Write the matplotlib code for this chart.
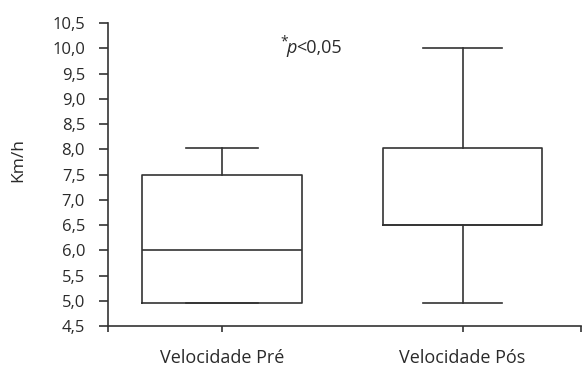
import matplotlib
matplotlib.use("Agg")
import matplotlib.pyplot as plt
from matplotlib.ticker import FuncFormatter
import numpy as np

plt.rcParams["font.family"] = ["Open Sans", "DejaVu Sans"]

# box statistics (Km/h)
groups = ["Velocidade Pré", "Velocidade Pós"]
whisker_low = [4.95, 4.96]
q1 = [4.95, 6.5]
median = [6.0, 6.5]
q3 = [7.5, 8.02]
whisker_high = [8.03, 10.0]
yticks = np.arange(4.5, 10.51, 0.5)

stats = [dict(label=g, whislo=lo, q1=a, med=m, q3=b, whishi=hi)
         for g, lo, a, m, b, hi in zip(groups, whisker_low, q1, median, q3, whisker_high)]

ink = "#333333"
txt = "#2a2a2a"
fig = plt.figure(figsize=(5.82, 3.68), dpi=100)
ax = fig.add_axes([0.1856, 0.1141, 0.8134, 0.8234])

ax.bxp(stats, positions=[1, 2], widths=0.664, capwidths=[0.30, 0.33],
       showfliers=False,
       boxprops=dict(color=ink, linewidth=1.2),
       medianprops=dict(color=ink, linewidth=1.2),
       whiskerprops=dict(color=ink, linewidth=1.2),
       capprops=dict(color=ink, linewidth=1.2))

xlo, xhi = 0.527, 2.494
ax.set_xlim(xlo, xhi)
ax.set_ylim(4.5, 10.5)
ax.set_yticks(yticks)
ax.yaxis.set_major_formatter(FuncFormatter(lambda v, p: f"{v:.1f}".replace(".", ",")))
ax.set_xticks([1, 2])
ax.set_xticklabels(groups)
ax.set_xticks([xlo, xhi], minor=True)
ax.tick_params(axis="both", which="both", colors=ink, labelcolor=txt, width=1.2)
ax.tick_params(axis="y", labelsize=12, length=6.5, pad=10)
ax.tick_params(axis="x", which="both", labelsize=13, length=4.5, pad=12)

for s in ["top", "right"]:
    ax.spines[s].set_visible(False)
for s in ["left", "bottom"]:
    ax.spines[s].set_color(ink)
    ax.spines[s].set_linewidth(1.2)

fig.text(18 / 582, 1 - 160 / 368, "Km/h", rotation=90, fontsize=12.5, color=txt,
         ha="center", va="center")

ax.text(1.243, 10.12, "*", fontsize=10, color=txt, ha="left", va="center")
ax.text(1.27, 10.0, "p", fontsize=13, style="italic", color=txt, ha="left", va="center")
ax.text(1.31, 10.0, "<0,05", fontsize=13, color=txt, ha="left", va="center")

plt.savefig("out.png", dpi=100)
